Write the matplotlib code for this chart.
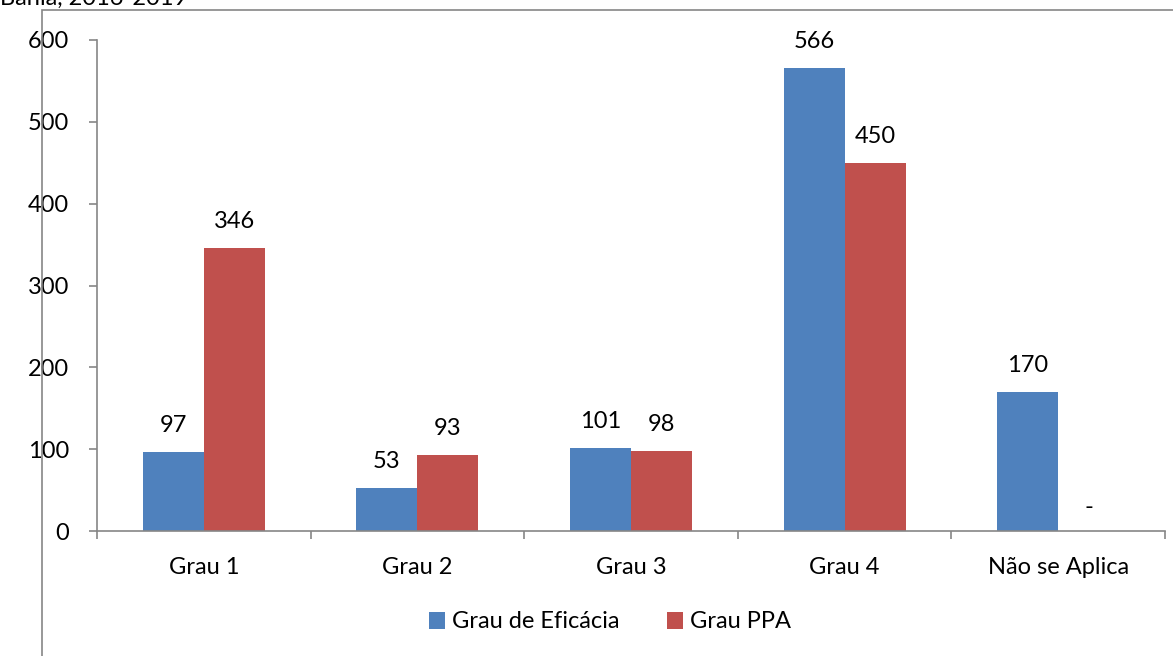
import numpy as np
import matplotlib
matplotlib.use("Agg")
import matplotlib.pyplot as plt
from matplotlib.patches import Rectangle

plt.rcParams['font.family'] = ['Lato', 'DejaVu Sans']

# Data
categories = ["Grau 1", "Grau 2", "Grau 3", "Grau 4", "Não se Aplica"]
eficacia = [97, 53, 101, 566, 170]
ppa = [346, 93, 98, 450, 0]
ppa_labels = ["346", "93", "98", "450", "-"]
series_names = ["Grau de Eficácia", "Grau PPA"]

BLUE = "#4F81BD"
RED = "#C0504D"
GRAY = "#868686"
FS = 17

fig = plt.figure(figsize=(11.73, 6.56), dpi=100)
ax = fig.add_axes([97 / 1173, 1 - 531 / 656, (1165 - 97) / 1173, (531 - 40) / 656])

# outer chart border (partially cut off)
fig.patches.append(Rectangle((42 / 1173, -0.05), 1.2, 1 - 10 / 656 + 0.05,
                             transform=fig.transFigure, fill=False,
                             edgecolor=GRAY, linewidth=1.2))
fig.text(0.0, 1 - 5 / 656, "Bahia, 2016-2019", fontsize=FS, va='baseline', ha='left')

x = np.arange(len(categories))
w = 0.286
b1 = ax.bar(x - w / 2, eficacia, w, color=BLUE, label=series_names[0])
b2 = ax.bar(x + w / 2, ppa, w, color=RED, label=series_names[1])

for rect, v in zip(b1, eficacia):
    ax.annotate(str(v), (rect.get_x() + rect.get_width() / 2, v), xytext=(0, 19),
                textcoords='offset points', ha='center', va='center', fontsize=FS)
for rect, v, lab in zip(b2, ppa, ppa_labels):
    ax.annotate(lab, (rect.get_x() + rect.get_width() / 2, v), xytext=(0, 17 if lab == "-" else 19),
                textcoords='offset points', ha='center', va='center', fontsize=FS)

ax.set_xlim(-0.5, len(categories) - 0.5)
ax.set_ylim(0, 600)
ax.set_yticks(range(0, 601, 100))
ax.set_xticks(x)
ax.set_xticklabels(categories, fontsize=FS)
ax.tick_params(axis='x', length=0, pad=19)
ax.set_xticks(np.arange(-0.5, len(categories), 1), minor=True)
ax.tick_params(axis='x', which='minor', length=6, color=GRAY, width=1.2)
ax.tick_params(axis='y', labelsize=FS, length=6, color=GRAY, width=1.2, pad=14)

for s in ['top', 'right']:
    ax.spines[s].set_visible(False)
for s in ['left', 'bottom']:
    ax.spines[s].set_color(GRAY)
    ax.spines[s].set_linewidth(1.2)

fig.legend(loc='center', bbox_to_anchor=(610 / 1173, 1 - 622 / 656), ncol=2, frameon=False,
           fontsize=FS, handlelength=0.7, handleheight=0.7, handletextpad=0.3, columnspacing=2.0)

fig.savefig("out.png", dpi=100)
